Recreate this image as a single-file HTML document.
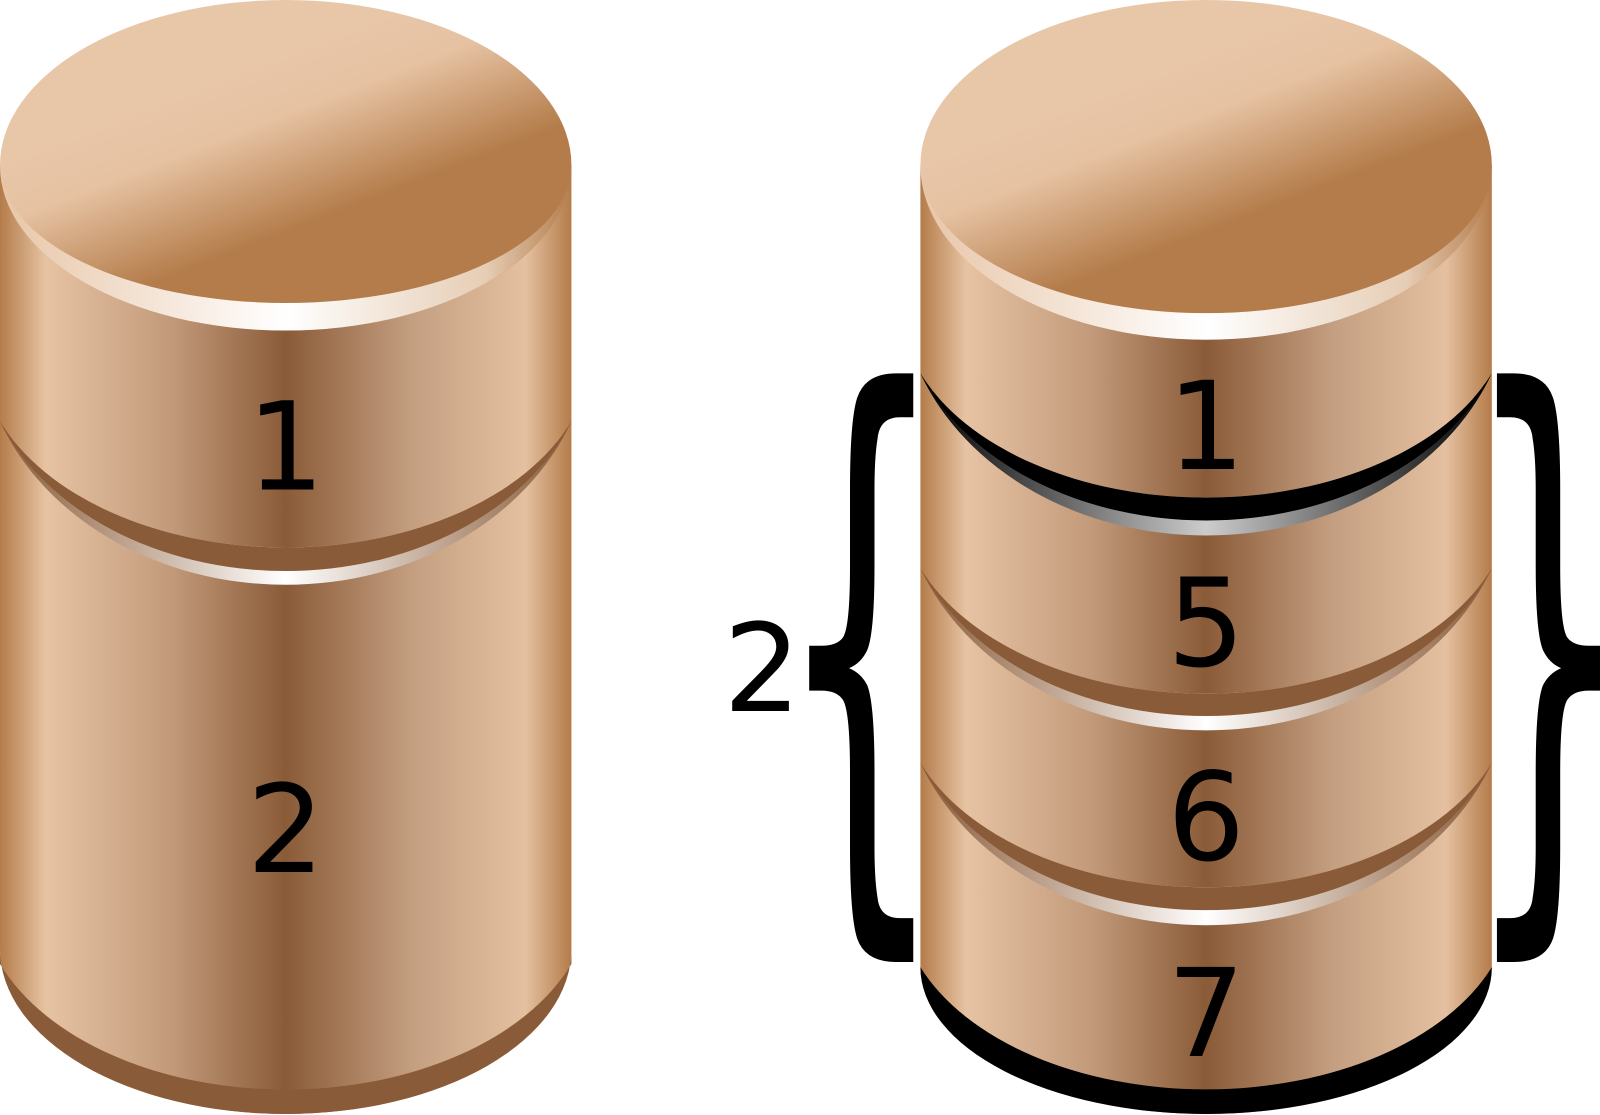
<!DOCTYPE html>
<html><head><meta charset="utf-8"><style>html,body{margin:0;padding:0;background:#fff}svg{display:block}</style></head>
<body>
<svg width="1600" height="1115" viewBox="0 0 1568 1093" preserveAspectRatio="none" xmlns="http://www.w3.org/2000/svg">
<defs>
<linearGradient id="side" x1="0" x2="1" y1="0" y2="0">
<stop offset="0" stop-color="#b47c4a"/><stop offset="0.08" stop-color="#e6c3a3"/><stop offset="0.3" stop-color="#c29a7a"/><stop offset="0.5" stop-color="#8a5b38"/><stop offset="0.72" stop-color="#c49e80"/><stop offset="0.92" stop-color="#e4c0a0"/><stop offset="1" stop-color="#b47c4a"/>
</linearGradient>
<linearGradient id="face" x1="0.35" y1="0.25" x2="0.65" y2="0.7">
<stop offset="0" stop-color="#e8c6a8"/><stop offset="0.3" stop-color="#e6c2a2"/><stop offset="0.85" stop-color="#b47c4a"/><stop offset="1" stop-color="#b47c4a"/>
</linearGradient>
<linearGradient id="rim" x1="0" x2="1"><stop offset="0" stop-color="#e8c6a8"/><stop offset="0.5" stop-color="#ffffff"/><stop offset="0.85" stop-color="#e6cdb5"/><stop offset="1" stop-color="#b47c4a"/></linearGradient>
<linearGradient id="hl" x1="0" x2="1"><stop offset="0" stop-color="#8a5b38"/><stop offset="0.5" stop-color="#ffffff"/><stop offset="1" stop-color="#8a5b38"/></linearGradient>
<linearGradient id="hlk" x1="0" x2="1"><stop offset="0" stop-color="#000"/><stop offset="0.5" stop-color="#cccccc"/><stop offset="1" stop-color="#000"/></linearGradient>
</defs>

<!-- LEFT CYLINDER -->
<g>
<path d="M0,162 L560,162 L560,930 A280 162 0 0 1 0,930 Z" fill="url(#side)"/>
<path d="M0,930 A280 162 0 0 0 560,930 L560,945 A300 192 0 0 1 0,945 Z" fill="#8a5b38"/>
<ellipse cx="280" cy="162" rx="280" ry="162" fill="url(#face)"/>
<path d="M0,162 A280 162 0 0 0 560,162 A280 135 0 0 1 0,162 Z" fill="url(#rim)"/>
<path d="M0,413 A300 250 0 0 0 560,413 A300 193 0 0 1 0,413 Z" fill="url(#hl)"/>
<path d="M0,413 A300 229 0 0 0 560,413 A300 193 0 0 1 0,413 Z" fill="#8a5b38"/>
<text x="280" y="480" text-anchor="middle" font-family="DejaVu Sans, Liberation Sans, sans-serif" font-size="120">1</text>
<text x="280" y="855" text-anchor="middle" font-family="DejaVu Sans, Liberation Sans, sans-serif" font-size="120">2</text>
</g>

<!-- RIGHT CYLINDER -->
<g transform="translate(902,0)">
<path d="M0,162 L560,162 L560,948 A280 144 0 0 1 0,948 Z" fill="url(#side)"/>
<path d="M0,948 A280 144 0 0 0 560,948 A300 187 0 0 1 0,948 Z" fill="#000"/>
<ellipse cx="280" cy="162" rx="280" ry="162" fill="url(#face)"/>
<path d="M0,162 A280 171 0 0 0 560,162 A280 145 0 0 1 0,162 Z" fill="url(#rim)"/>
<path d="M0,366 A300 248 0 0 0 560,366 A300 190 0 0 1 0,366 Z" fill="url(#hlk)"/>
<path d="M0,366 A300 225 0 0 0 560,366 A300 190 0 0 1 0,366 Z" fill="#000"/>
<path d="M0,557 A300 248 0 0 0 560,557 A300 192 0 0 1 0,557 Z" fill="url(#hl)"/>
<path d="M0,557 A300 226 0 0 0 560,557 A300 192 0 0 1 0,557 Z" fill="#8a5b38"/>
<path d="M0,748 A300 248 0 0 0 560,748 A300 190 0 0 1 0,748 Z" fill="url(#hl)"/>
<path d="M0,748 A300 225 0 0 0 560,748 A300 190 0 0 1 0,748 Z" fill="#8a5b38"/>
<g font-family="DejaVu Sans, Liberation Sans, sans-serif" font-size="120" text-anchor="middle">
<text x="280" y="460">1</text>
<text x="280" y="653">5</text>
<text x="280" y="843">6</text>
<text x="280" y="1035">7</text>
</g>
</g>

<!-- BRACES -->
<g>
<path d="M895,366 L878,366 Q848,366 840,390 Q833,412 833,480 L833,555 Q833,615 826,625 Q820,633 805,633 L793,633 L793,677 L805,677 Q820,677 826,686 Q833,697 833,757 L833,830 Q833,898 840,920 Q848,943 878,943 L895,943 L895,900 L882,900 Q862,900 860,880 Q857,862 857,830 L857,757 Q857,690 850,672 Q844,660 832,655 Q844,650 850,637 Q857,620 857,555 L857,480 Q857,448 860,430 Q862,409 882,409 L895,409 Z" fill="#000"/>
</g>
<text x="747" y="697" text-anchor="middle" font-family="DejaVu Sans, Liberation Sans, sans-serif" font-size="120">2</text>
<g transform="translate(2362,0) scale(-1,1)">
<path d="M895,366 L878,366 Q848,366 840,390 Q833,412 833,480 L833,555 Q833,615 826,625 Q820,633 805,633 L794,633 L794,677 L805,677 Q820,677 826,686 Q833,697 833,757 L833,830 Q833,898 840,920 Q848,943 878,943 L895,943 L895,900 L882,900 Q862,900 860,880 Q857,862 857,830 L857,757 Q857,690 850,672 Q844,660 832,655 Q844,650 850,637 Q857,620 857,555 L857,480 Q857,448 860,430 Q862,409 882,409 L895,409 Z" fill="#000"/>
</g>
</svg>
</body></html>
